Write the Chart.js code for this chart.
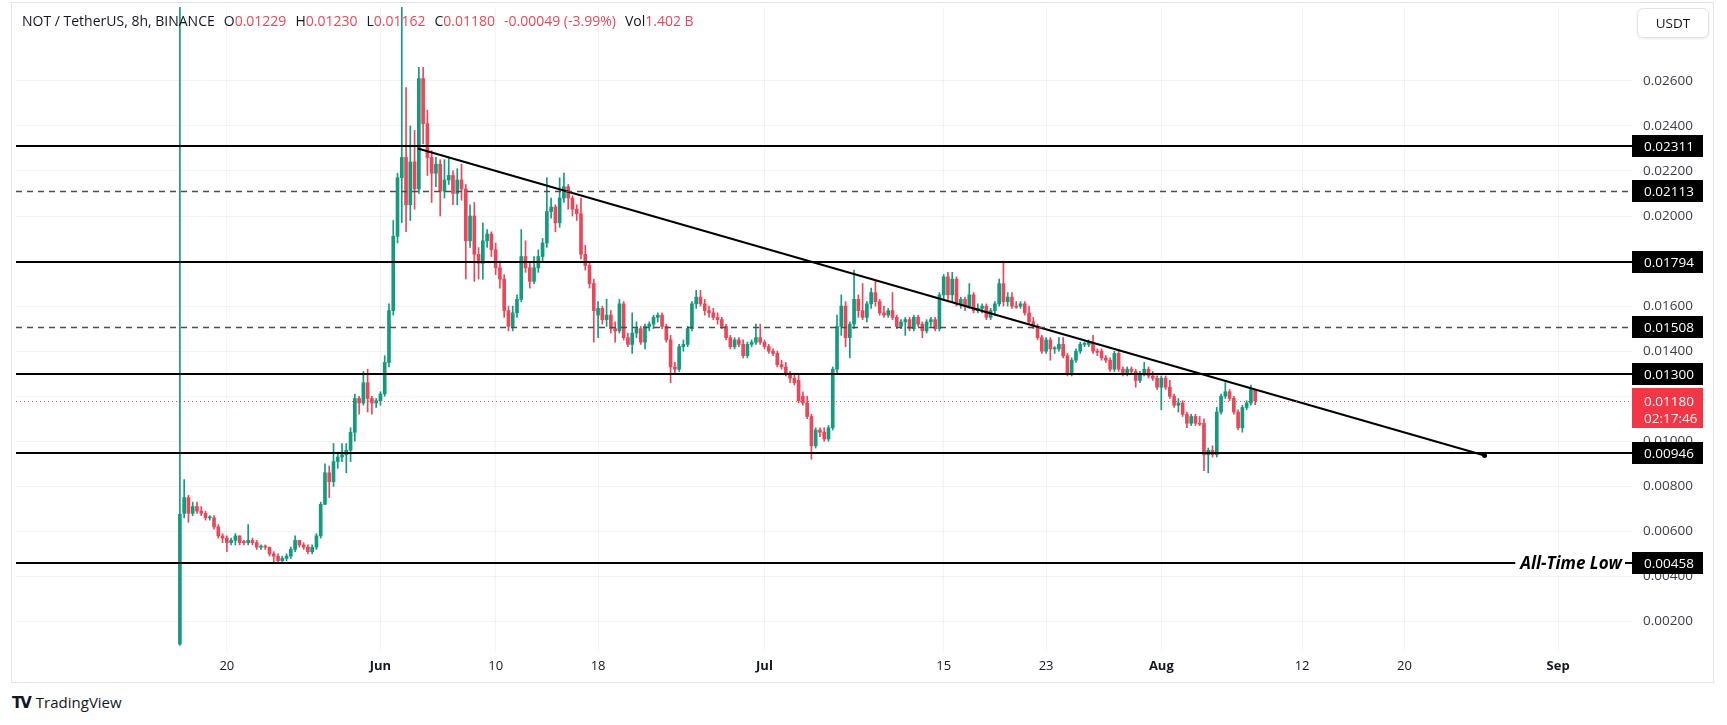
<!DOCTYPE html>
<html>
<head>
<meta charset="utf-8">
<script src="https://cdn.jsdelivr.net/npm/chart.js@4.4.1/dist/chart.umd.min.js"></script>
<style>
  body { margin: 0; background: #fff; width: 1727px; height: 725px; overflow: hidden; font-family: "Open Sans", sans-serif; }
  #pane { position: absolute; left: 11px; top: 2px; width: 1703px; height: 681px; border: 1px solid #e0e3eb; box-sizing: border-box; }
  #wrap { position: absolute; left: 12px; top: 3px; width: 1700px; height: 678px; }
  #legend { position: absolute; left: 22px; top: 11px; font-size: 14px; color: #131722; white-space: nowrap; }
  #legend .v { color: #e9475a; }
  #legend .g { margin-left: 9px; }
  #usdt { position: absolute; left: 1637px; top: 8px; width: 72px; height: 30px; border: 1px solid #e0e3eb; border-radius: 6px;
          box-sizing: border-box; box-shadow: 0 1px 3px rgba(0,0,0,.08); font-size: 13.5px; line-height: 28px; text-align: center; color: #131722; background: #fff; }
  #footer { position: absolute; left: 12px; top: 692px; font-size: 15px; color: #131722; }
  #footer b { font-family: "DejaVu Sans"; font-weight: 900; letter-spacing: -2px; margin-right: 6px; }
</style>
</head>
<body>
<div id="pane"></div>
<div id="wrap"><canvas id="chart" width="1700" height="678"></canvas></div>
<div id="legend">NOT / TetherUS, 8h, BINANCE<span class="g">O</span><span class="v">0.01229</span><span class="g">H</span><span class="v">0.01230</span><span class="g">L</span><span class="v">0.01162</span><span class="g">C</span><span class="v">0.01180</span><span class="g v">-0.00049 (-3.99%)</span><span class="g">Vol</span><span class="v">1.402 B</span></div>
<div id="usdt">USDT</div>
<div id="footer"><b>TV</b>TradingView</div>
<script>
// 8h candles, time measured in days from Jun 1
var startDay = -15 - 2 / 3;   // May 16 08:00
var barDays = 1 / 3;

var opens = [
  0.0010, 0.0068, 0.0075, 0.0068, 0.0071, 0.0069, 0.0068, 0.0066, 0.0066, 0.0062,
  0.0058, 0.0057, 0.0055, 0.0056, 0.0058, 0.00555, 0.0055, 0.0056, 0.0055, 0.0053,
  0.00532, 0.0053, 0.0050, 0.0049, 0.0047, 0.0048, 0.0049, 0.0052, 0.0056, 0.0054,
  0.0053, 0.0051, 0.0053, 0.0058, 0.0072, 0.0086, 0.0082, 0.0091, 0.0093, 0.0094,
  0.0096, 0.0104, 0.0119, 0.0117, 0.0126, 0.0119, 0.0117, 0.0118, 0.0121, 0.0135,
  0.0158, 0.0191, 0.0217, 0.0226, 0.0205, 0.0224, 0.0212, 0.0261, 0.0241, 0.0226,
  0.0219, 0.0223, 0.0211, 0.0216, 0.0218, 0.0210, 0.0216, 0.0212, 0.0189, 0.0200,
  0.0183, 0.0179, 0.0189, 0.0192, 0.0185, 0.0177, 0.0172, 0.0158, 0.0151, 0.0157,
  0.0163, 0.0182, 0.0177, 0.0171, 0.0177, 0.0182, 0.0188, 0.0202, 0.0204, 0.0197,
  0.0208, 0.0213, 0.0208, 0.0203, 0.0201, 0.0183, 0.0178, 0.0170, 0.0156, 0.0159,
  0.0154, 0.0156, 0.0150, 0.0149, 0.0161, 0.0146, 0.0143, 0.0148, 0.0150, 0.0144,
  0.0151, 0.0152, 0.0155, 0.0156, 0.0151, 0.0145, 0.0133, 0.0132, 0.0142, 0.0143,
  0.0150, 0.0161, 0.0164, 0.0161, 0.0158, 0.0157, 0.0155, 0.0154, 0.0151, 0.0146,
  0.0142, 0.0145, 0.0143, 0.0138, 0.0143, 0.0144, 0.0146, 0.0144, 0.0142, 0.0140,
  0.0139, 0.0134, 0.0133, 0.0130, 0.0128, 0.0127, 0.0120, 0.0117, 0.0111, 0.0098,
  0.0105, 0.0104, 0.0101, 0.0106, 0.0132, 0.0151, 0.0160, 0.0146, 0.0152, 0.0163,
  0.0158, 0.0155, 0.0161, 0.0166, 0.0162, 0.0157, 0.0156, 0.0158, 0.0155, 0.0151,
  0.0153, 0.0154, 0.0150, 0.0155, 0.0152, 0.0149, 0.0153, 0.0154, 0.0150, 0.0165,
  0.0173, 0.0165, 0.0172, 0.0161, 0.0163, 0.0160, 0.0165, 0.0158, 0.0159, 0.0160,
  0.0155, 0.0158, 0.0161, 0.0170, 0.0162, 0.0164, 0.0160, 0.0160, 0.0161, 0.0157,
  0.0153, 0.0151, 0.0146, 0.0140, 0.0145, 0.0141, 0.0141, 0.0143, 0.0138, 0.0130,
  0.0136, 0.0140, 0.0143, 0.0143, 0.0144, 0.0140, 0.0140, 0.0137, 0.0136, 0.0132,
  0.0139, 0.0132, 0.0130, 0.0132, 0.0131, 0.0127, 0.0130, 0.0132, 0.0129, 0.0128,
  0.0124, 0.0128, 0.0124, 0.0120, 0.0116, 0.0117, 0.0112, 0.0108, 0.0111, 0.0108,
  0.0108, 0.0094, 0.0096, 0.0094, 0.0113, 0.0120, 0.0122, 0.0119, 0.0113, 0.0106,
  0.0115, 0.0117, 0.01229
];
var highs = [
  0.0300, 0.0083, 0.0076, 0.0073, 0.0073, 0.0071, 0.0069, 0.0067, 0.0067, 0.0063,
  0.0059, 0.0058, 0.0057, 0.0059, 0.0058, 0.0056, 0.0063, 0.0057, 0.0056, 0.0054,
  0.0054, 0.0053, 0.0051, 0.0050, 0.0049, 0.0050, 0.0053, 0.0058, 0.0056, 0.0055,
  0.0054, 0.0054, 0.0059, 0.0073, 0.0090, 0.0089, 0.0099, 0.0095, 0.0099, 0.0099,
  0.0106, 0.0121, 0.0120, 0.0131, 0.0132, 0.0120, 0.0119, 0.0122, 0.0138, 0.0161,
  0.0198, 0.0219, 0.0300, 0.0257, 0.0240, 0.0238, 0.0266, 0.0266, 0.0247, 0.0229,
  0.0226, 0.0225, 0.0225, 0.0226, 0.0220, 0.0221, 0.0223, 0.0214, 0.0205, 0.0206,
  0.0186, 0.0197, 0.0194, 0.0193, 0.0188, 0.0180, 0.0174, 0.0160, 0.0160, 0.0165,
  0.0194, 0.0189, 0.0179, 0.0182, 0.0185, 0.0190, 0.0217, 0.0208, 0.0205, 0.0217,
  0.0219, 0.0214, 0.0209, 0.0205, 0.0208, 0.0187, 0.0179, 0.0172, 0.0162, 0.0160,
  0.0163, 0.0158, 0.0153, 0.0163, 0.0162, 0.0148, 0.0157, 0.0153, 0.0151, 0.0152,
  0.0153, 0.0156, 0.0157, 0.0157, 0.0152, 0.0147, 0.0135, 0.0143, 0.0145, 0.0151,
  0.0162, 0.0167, 0.0167, 0.0163, 0.0160, 0.0159, 0.0157, 0.0155, 0.0152, 0.0147,
  0.0146, 0.0146, 0.0145, 0.0144, 0.0145, 0.0152, 0.0152, 0.0145, 0.0143, 0.0141,
  0.0140, 0.0136, 0.0135, 0.0131, 0.0130, 0.0130, 0.0122, 0.0120, 0.0112, 0.0106,
  0.0106, 0.0106, 0.0107, 0.0133, 0.0156, 0.0165, 0.0162, 0.0153, 0.0176, 0.0165,
  0.0170, 0.0162, 0.0168, 0.0171, 0.0163, 0.0160, 0.0159, 0.0166, 0.0156, 0.0154,
  0.0155, 0.0155, 0.0156, 0.0156, 0.0153, 0.0154, 0.0155, 0.0155, 0.0166, 0.0174,
  0.0175, 0.0175, 0.0173, 0.0164, 0.0164, 0.0170, 0.0166, 0.0161, 0.0161, 0.0161,
  0.0159, 0.0162, 0.0172, 0.0180, 0.0166, 0.0166, 0.0162, 0.0162, 0.0162, 0.0160,
  0.0155, 0.0152, 0.0147, 0.0146, 0.0146, 0.0142, 0.0146, 0.0146, 0.0139, 0.0137,
  0.0141, 0.0144, 0.0144, 0.0145, 0.0147, 0.0141, 0.0141, 0.0138, 0.0137, 0.0140,
  0.0140, 0.0133, 0.0133, 0.0133, 0.0132, 0.0131, 0.0135, 0.0133, 0.0131, 0.0129,
  0.0129, 0.0129, 0.0127, 0.0121, 0.0119, 0.0118, 0.0113, 0.0112, 0.0112, 0.0111,
  0.0110, 0.0097, 0.0098, 0.0115, 0.0121, 0.0126, 0.0123, 0.0120, 0.0114, 0.0116,
  0.0118, 0.0125, 0.01230
];
var lows = [
  0.00094, 0.0066, 0.0064, 0.0067, 0.0068, 0.0067, 0.0065, 0.0065, 0.0061, 0.0057,
  0.0055, 0.0051, 0.0054, 0.0054, 0.0054, 0.0054, 0.0054, 0.0054, 0.0052, 0.0052,
  0.0052, 0.0049, 0.0046, 0.0046, 0.0046, 0.0047, 0.0048, 0.0051, 0.0053, 0.0052,
  0.0050, 0.0050, 0.0052, 0.0057, 0.0072, 0.0075, 0.0080, 0.0088, 0.0091, 0.0086,
  0.0091, 0.0100, 0.0112, 0.0116, 0.0113, 0.0112, 0.0115, 0.0116, 0.0120, 0.0133,
  0.0156, 0.0188, 0.0197, 0.0193, 0.0198, 0.0203, 0.0210, 0.0232, 0.0218, 0.0206,
  0.0213, 0.0200, 0.0208, 0.0214, 0.0205, 0.0205, 0.0207, 0.0172, 0.0186, 0.0171,
  0.0172, 0.0172, 0.0186, 0.0182, 0.0174, 0.0168, 0.0155, 0.0149, 0.0149, 0.0155,
  0.0162, 0.0175, 0.0168, 0.0170, 0.0175, 0.0180, 0.0186, 0.0199, 0.0193, 0.0195,
  0.0206, 0.0203, 0.0200, 0.0198, 0.0181, 0.0176, 0.0168, 0.0144, 0.0146, 0.0152,
  0.0151, 0.0148, 0.0144, 0.0148, 0.0145, 0.0142, 0.0139, 0.0146, 0.0143, 0.0141,
  0.0149, 0.0150, 0.0153, 0.0150, 0.0144, 0.0126, 0.0130, 0.0131, 0.0140, 0.0142,
  0.0149, 0.0159, 0.0160, 0.0156, 0.0155, 0.0154, 0.0152, 0.0150, 0.0145, 0.0141,
  0.0141, 0.0142, 0.0137, 0.0137, 0.0142, 0.0143, 0.0143, 0.0141, 0.0139, 0.0138,
  0.0133, 0.0132, 0.0129, 0.0126, 0.0125, 0.0117, 0.0116, 0.0110, 0.0092, 0.0097,
  0.0102, 0.0100, 0.0100, 0.0105, 0.0130, 0.0147, 0.0142, 0.0137, 0.0150, 0.0155,
  0.0154, 0.0153, 0.0159, 0.0160, 0.0156, 0.0155, 0.0155, 0.0154, 0.0150, 0.0150,
  0.0147, 0.0149, 0.0149, 0.0151, 0.0146, 0.0148, 0.0151, 0.0149, 0.0149, 0.0163,
  0.0163, 0.0162, 0.0160, 0.0159, 0.0158, 0.0159, 0.0157, 0.0157, 0.0157, 0.0154,
  0.0154, 0.0156, 0.0160, 0.0160, 0.0160, 0.0159, 0.0159, 0.0159, 0.0156, 0.0152,
  0.0150, 0.0145, 0.0139, 0.0139, 0.0136, 0.0139, 0.0140, 0.0137, 0.0129, 0.0129,
  0.0135, 0.0139, 0.0142, 0.0142, 0.0139, 0.0138, 0.0136, 0.0135, 0.0131, 0.0131,
  0.0131, 0.0129, 0.0129, 0.0130, 0.0124, 0.0126, 0.0129, 0.0128, 0.0127, 0.0123,
  0.0114, 0.0123, 0.0119, 0.0115, 0.0113, 0.0111, 0.0106, 0.0107, 0.0107, 0.0107,
  0.0087, 0.0086, 0.0093, 0.0093, 0.0112, 0.0119, 0.0118, 0.0112, 0.0105, 0.0104,
  0.0114, 0.0116, 0.01162
];
var closes = [
  0.00676, 0.0075, 0.0068, 0.0071, 0.0069, 0.0068, 0.0066, 0.0066, 0.0062, 0.0058,
  0.0057, 0.0055, 0.0056, 0.0058, 0.0055, 0.0055, 0.0056, 0.0055, 0.0053, 0.00532,
  0.0053, 0.0050, 0.0049, 0.0047, 0.0048, 0.0049, 0.0052, 0.0056, 0.0054, 0.0053,
  0.0051, 0.0053, 0.0058, 0.0072, 0.0086, 0.0082, 0.0091, 0.0093, 0.0094, 0.0096,
  0.0104, 0.0119, 0.0117, 0.0126, 0.0119, 0.0117, 0.0118, 0.0121, 0.0135, 0.0158,
  0.0191, 0.0217, 0.0226, 0.0205, 0.0224, 0.0212, 0.0261, 0.0241, 0.0226, 0.0219,
  0.0223, 0.0211, 0.0216, 0.0218, 0.0210, 0.0216, 0.0212, 0.0189, 0.0200, 0.0183,
  0.0179, 0.0189, 0.0192, 0.0185, 0.0177, 0.0172, 0.0158, 0.0151, 0.0157, 0.0163,
  0.0182, 0.0177, 0.0171, 0.0177, 0.0182, 0.0188, 0.0202, 0.0204, 0.0197, 0.0208,
  0.0213, 0.0208, 0.0203, 0.0201, 0.0183, 0.0178, 0.0170, 0.0158, 0.0159, 0.0154,
  0.0156, 0.0150, 0.0149, 0.0161, 0.0146, 0.0143, 0.0148, 0.0150, 0.0144, 0.0151,
  0.0152, 0.0155, 0.0156, 0.0151, 0.0145, 0.0133, 0.0132, 0.0142, 0.0143, 0.0150,
  0.0161, 0.0164, 0.0161, 0.0158, 0.0157, 0.0155, 0.0154, 0.0151, 0.0146, 0.0142,
  0.0145, 0.0143, 0.0138, 0.0143, 0.0144, 0.0146, 0.0144, 0.0142, 0.0140, 0.0139,
  0.0134, 0.0133, 0.0130, 0.0128, 0.0126, 0.0118, 0.0117, 0.0111, 0.0098, 0.0105,
  0.0104, 0.0101, 0.0106, 0.0132, 0.0151, 0.0160, 0.0146, 0.0152, 0.0163, 0.0158,
  0.0155, 0.0161, 0.0166, 0.0162, 0.0157, 0.0156, 0.0158, 0.0155, 0.0151, 0.0153,
  0.0154, 0.0150, 0.0155, 0.0152, 0.0149, 0.0153, 0.0154, 0.0150, 0.0165, 0.0173,
  0.0165, 0.0172, 0.0161, 0.0163, 0.0160, 0.0165, 0.0158, 0.0159, 0.0160, 0.0155,
  0.0158, 0.0161, 0.0170, 0.0162, 0.0164, 0.0160, 0.01595, 0.0161, 0.0157, 0.0153,
  0.0151, 0.0146, 0.0140, 0.0145, 0.0141, 0.01415, 0.0143, 0.0138, 0.0130, 0.0136,
  0.0140, 0.0143, 0.01435, 0.0144, 0.0140, 0.01395, 0.0137, 0.0136, 0.0132, 0.0139,
  0.0132, 0.0130, 0.0132, 0.0131, 0.0127, 0.0130, 0.0132, 0.0129, 0.0128, 0.0124,
  0.0128, 0.0124, 0.0120, 0.0116, 0.0117, 0.0112, 0.0108, 0.0111, 0.0108, 0.01075,
  0.0094, 0.0096, 0.0094, 0.0113, 0.0120, 0.0122, 0.0119, 0.0113, 0.0106, 0.0115,
  0.0117, 0.01229, 0.01180
];

// horizontal levels and the falling trend line
var solidLevels = [0.02311, 0.01794, 0.01300, 0.00946];
var dashedLevels = [0.02113, 0.01508];
var athLowLevel = 0.00458;
var lastPrice = 0.01180;
var countdown = '02:17:46';
var trendStart = { x: 2.92, y: 0.02300 };
var trendEnd = { x: 86.25, y: 0.00937 };

// axis labels
var dateTicks = [-12, 0, 9, 17, 30, 44, 52, 61, 72, 80, 92];
var dateLabels = ['20', 'Jun', '10', '18', 'Jul', '15', '23', 'Aug', '12', '20', 'Sep'];
var monthLabels = ['Jun', 'Jul', 'Aug', 'Sep'];
var priceTicks = [0.002, 0.004, 0.006, 0.008, 0.010, 0.012, 0.014, 0.016, 0.018, 0.020, 0.022, 0.024, 0.026];

var UP = '#139a7f', DOWN = '#e9475a';
var FONT = '"Open Sans", sans-serif';

var times = opens.map(function (o, i) { return startDay + i * barDays; });
var colors = opens.map(function (o, i) { return closes[i] >= o ? UP : DOWN; });

var levelsPlugin = {
    id: 'levels',
    afterDatasetsDraw: function (chart) {
        var ctx = chart.ctx, area = chart.chartArea, y = chart.scales.y;
        ctx.save();
        ctx.beginPath();
        ctx.rect(area.left, area.top, area.right - area.left, area.bottom - area.top);
        ctx.clip();

        ctx.strokeStyle = '#000';
        ctx.lineWidth = 2;
        solidLevels.forEach(function (v) {
            var py = Math.round(y.getPixelForValue(v));
            ctx.beginPath(); ctx.moveTo(area.left, py); ctx.lineTo(area.right, py); ctx.stroke();
        });

        ctx.strokeStyle = '#4d4d4d';
        ctx.lineWidth = 1.5;
        ctx.setLineDash([6, 5]);
        dashedLevels.forEach(function (v) {
            var py = Math.round(y.getPixelForValue(v)) + 0.5;
            ctx.beginPath(); ctx.moveTo(area.left, py); ctx.lineTo(area.right, py); ctx.stroke();
        });

        ctx.strokeStyle = DOWN;
        ctx.lineWidth = 1;
        ctx.setLineDash([1, 3]);
        var lp = Math.round(y.getPixelForValue(lastPrice)) + 0.5;
        ctx.beginPath(); ctx.moveTo(area.left, lp); ctx.lineTo(area.right, lp); ctx.stroke();
        ctx.setLineDash([]);

        // all-time low line with its caption
        var ay = Math.round(y.getPixelForValue(athLowLevel));
        ctx.font = 'italic bold 17px ' + FONT;
        var label = 'All-Time Low';
        var tw = ctx.measureText(label).width;
        var tx = area.right - 10 - tw;
        ctx.strokeStyle = '#000';
        ctx.lineWidth = 2;
        ctx.beginPath(); ctx.moveTo(area.left, ay); ctx.lineTo(tx - 5, ay); ctx.stroke();
        ctx.beginPath(); ctx.moveTo(area.right - 7, ay); ctx.lineTo(area.right, ay); ctx.stroke();
        ctx.fillStyle = '#000';
        ctx.textBaseline = 'middle';
        ctx.fillText(label, tx, ay + 1);
        ctx.restore();
    },
    afterDraw: function (chart) {
        var ctx = chart.ctx, area = chart.chartArea, y = chart.scales.y;
        ctx.save();
        ctx.font = '13.5px ' + FONT;
        ctx.textBaseline = 'middle';
        ctx.textAlign = 'left';
        solidLevels.concat(dashedLevels, [athLowLevel]).forEach(function (v) {
            var py = Math.round(y.getPixelForValue(v));
            ctx.fillStyle = '#000';
            ctx.fillRect(area.right, py - 11, 71, 22);
            ctx.fillStyle = '#fff';
            ctx.fillText(v.toFixed(5), area.right + 12, py + 1);
        });
        var lp = Math.round(y.getPixelForValue(lastPrice));
        ctx.fillStyle = '#f23645';
        ctx.fillRect(area.right, lp - 13, 71, 40);
        ctx.fillStyle = '#fff';
        ctx.fillText(lastPrice.toFixed(5), area.right + 12, lp + 1);
        ctx.fillText(countdown, area.right + 12, lp + 18);
        ctx.restore();
    }
};

new Chart(document.getElementById('chart'), {
    type: 'bar',
    data: {
        datasets: [{
            label: 'wick',
            data: times.map(function (t, i) { return { x: t, y: [lows[i], highs[i]] }; }),
            backgroundColor: colors,
            barThickness: 1,
            grouped: false,
            order: 3
        }, {
            label: 'body',
            data: times.map(function (t, i) { return { x: t, y: [opens[i], closes[i]] }; }),
            backgroundColor: colors,
            barThickness: 3,
            minBarLength: 1,
            grouped: false,
            order: 2
        }, {
            type: 'line',
            label: 'trend',
            data: [trendStart, trendEnd],
            borderColor: '#000',
            borderWidth: 2,
            pointRadius: [0, 2.5],
            pointBackgroundColor: '#000',
            pointBorderWidth: 0,
            order: 1
        }]
    },
    options: {
        responsive: false,
        animation: false,
        events: [],
        layout: { padding: 0 },
        plugins: { legend: { display: false }, tooltip: { enabled: false } },
        scales: {
            x: {
                type: 'linear',
                min: -28.47,
                max: 97.77,
                offset: false,
                afterBuildTicks: function (s) { s.ticks = dateTicks.map(function (v) { return { value: v }; }); },
                afterFit: function (s) { s.height = 30; s.paddingLeft = 0; s.paddingRight = 0; },
                grid: { color: 'rgba(42,46,57,0.06)', drawTicks: false, offset: false },
                border: { display: false },
                ticks: {
                    padding: 7,
                    color: '#131722',
                    maxRotation: 0,
                    autoSkip: false,
                    font: function (c) {
                        var lab = c.tick ? dateLabels[dateTicks.indexOf(c.tick.value)] : '';
                        return { family: FONT, size: 13, weight: monthLabels.indexOf(lab) >= 0 ? 'bold' : 'normal' };
                    },
                    callback: function (v) { return dateLabels[dateTicks.indexOf(v)]; }
                }
            },
            y: {
                position: 'right',
                min: 0.00069,
                max: 0.029278,
                afterBuildTicks: function (s) { s.ticks = priceTicks.map(function (v) { return { value: v }; }); },
                afterFit: function (s) { s.width = 80; s.paddingTop = 0; s.paddingBottom = 0; },
                grid: { color: 'rgba(42,46,57,0.06)', drawTicks: false },
                border: { display: false },
                ticks: {
                    padding: 11,
                    color: '#3a3e49',
                    font: { family: FONT, size: 13.5 },
                    callback: function (v) { return v.toFixed(5); }
                }
            }
        }
    },
    plugins: [levelsPlugin]
});
</script>
</body>
</html>
